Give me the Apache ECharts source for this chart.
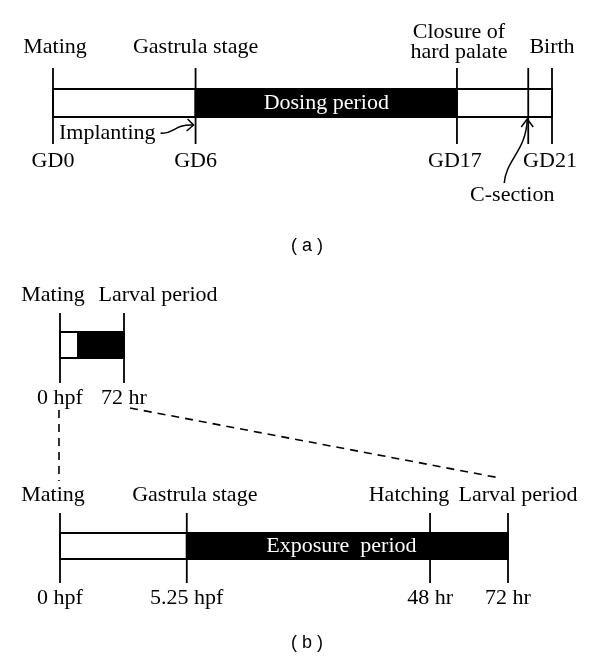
<!DOCTYPE html>
<html>
<head>
<meta charset="utf-8">
<script src="https://cdn.jsdelivr.net/npm/echarts@6/dist/echarts.min.js"></script>
<style>
  html, body { margin: 0; padding: 0; background: #fff; }
  #main { width: 600px; height: 661px; }
</style>
</head>
<body>
<div id="main"></div>
<script>
// (a) rat study, gestation days
const gdDays = [0, 6, 17, 20, 21];
const gdLabels = ['GD0', 'GD6', 'GD17', '', 'GD21'];
const gdEvents = ['Mating', 'Gastrula stage', 'Closure of\nhard palate', '', 'Birth'];
const gdSegments = [[0, 6, 0], [6, 17, 1], [17, 21, 0]];
const gdSegText = ['', 'Dosing period', ''];

// (b) zebrafish, hours post fertilization; bar is not drawn to scale,
// hpfPos is where each time sits along the bar (0-100)
const hpfHours = [0, 5.25, 48, 72];
const hpfPos = [0, 28.3, 82.6, 100];
const hpfLabels = ['0 hpf', '5.25 hpf', '48 hr', '72 hr'];
const hpfEvents = ['Mating', 'Gastrula stage', 'Hatching', 'Larval period'];
const hpfSegments = [[0, 28.3, 0], [28.3, 100, 1]];
const hpfSegText = ['', 'Exposure  period'];

// overview bar only shows start and end
const ovPos = [0, 100];
const ovLabels = ['0 hpf', '72 hr'];
const ovEvents = ['Mating', 'Larval period'];
const ovSegText = ['', ''];

const FONT = '22px "Liberation Serif"';
const LW = 1.8;

function txt(text, x, y, color) {
    return {
        type: 'text',
        style: {
            text: text, x: x, y: y, font: FONT, fill: color || '#000',
            align: 'center', verticalAlign: 'middle', lineHeight: 20
        }
    };
}

// one timeline drawn in grid g
function timeline(g, t) {
    return [
        {
            type: 'custom', xAxisIndex: g, yAxisIndex: g, silent: true, z: 1,
            data: t.segments,
            renderItem: function (params, api) {
                const a = api.coord([api.value(0), 1]);
                const b = api.coord([api.value(1), 0]);
                const dark = api.value(2) === 1;
                const label = t.segText[params.dataIndex];
                return {
                    type: 'group',
                    children: [
                        {
                            type: 'rect',
                            shape: { x: a[0], y: a[1], width: b[0] - a[0], height: b[1] - a[1] },
                            style: { fill: dark ? '#000' : '#fff', stroke: '#000', lineWidth: LW }
                        },
                        txt(label, (a[0] + b[0]) / 2 + (t.textDx || 0), (a[1] + b[1]) / 2, '#fff')
                    ]
                };
            }
        },
        {
            type: 'custom', xAxisIndex: g, yAxisIndex: g, silent: true, z: 2,
            data: t.ticks.map(function (v, i) { return [v, i]; }),
            renderItem: function (params, api) {
                const i = api.value(1);
                const top = api.coord([api.value(0), 1]);
                const bot = api.coord([api.value(0), 0]);
                const x = top[0];
                return {
                    type: 'group',
                    children: [
                        {
                            type: 'line',
                            shape: { x1: x, y1: top[1] - t.up, x2: x, y2: bot[1] + t.down },
                            style: { stroke: '#000', lineWidth: LW }
                        },
                        txt(t.events[i], x + (t.eventDx[i] || 0), top[1] - t.eventDy[i]),
                        txt(t.labels[i], x + (t.labelDx[i] || 0), bot[1] + t.labelDy)
                    ]
                };
            }
        }
    ];
}

const series = []
    .concat(timeline(0, {
        segments: gdSegments, segText: gdSegText, ticks: gdDays,
        labels: gdLabels, events: gdEvents,
        up: 21, down: 27, labelDy: 44,
        eventDx: [2, 0, 2, 0, 0], eventDy: [42, 42, 47, 42, 42],
        labelDx: [0, 0, -2, 0, -2]
    }))
    .concat(timeline(1, {
        segments: hpfSegments, segText: ovSegText, ticks: ovPos,
        labels: ovLabels, events: ovEvents,
        up: 19, down: 25, labelDy: 40,
        eventDx: [-7, 34], eventDy: [37, 37],
        labelDx: [0, 0]
    }))
    .concat(timeline(2, {
        segments: hpfSegments, segText: hpfSegText, ticks: hpfPos,
        labels: hpfLabels, events: hpfEvents, textDx: -6,
        up: 20, down: 24, labelDy: 39,
        eventDx: [-7, 8, -21, 10], eventDy: [38, 38, 38, 38],
        labelDx: [0, 0, 0, 0]
    }));

// Implanting note with arrow to GD6, C-section note with arrow to GD20
series.push({
    type: 'custom', xAxisIndex: 0, yAxisIndex: 0, silent: true, z: 3,
    data: [[0, 6, 0], [20, 20, 1]],
    renderItem: function (params, api) {
        const kind = api.value(2);
        const p = api.coord([api.value(1), 0]);
        const x = p[0], y = p[1];
        if (kind === 0) {
            const x0 = api.coord([api.value(0), 0])[0];
            return {
                type: 'group',
                children: [
                    {
                        type: 'text',
                        style: { text: 'Implanting', x: x0 + 6, y: y + 16, font: FONT, fill: '#000',
                            align: 'left', verticalAlign: 'middle' }
                    },
                    {
                        type: 'bezierCurve',
                        shape: { x1: x - 35, y1: y + 16, cpx1: x - 22, cpy1: y + 18, cpx2: x - 22, cpy2: y + 7, x2: x - 2, y2: y + 8 },
                        style: { stroke: '#000', lineWidth: 1.5, fill: null }
                    },
                    {
                        type: 'polyline',
                        shape: { points: [[x - 8, y + 2], [x - 2, y + 8], [x - 9, y + 14]] },
                        style: { stroke: '#000', lineWidth: 1.5, fill: null }
                    }
                ]
            };
        }
        return {
            type: 'group',
            children: [
                {
                    type: 'bezierCurve',
                    shape: { x1: x - 24, y1: y + 66, cpx1: x - 22, cpy1: y + 42, cpx2: x - 2, cpy2: y + 34, x2: x - 1, y2: y + 2 },
                    style: { stroke: '#000', lineWidth: 1.5, fill: null }
                },
                {
                    type: 'polyline',
                    shape: { points: [[x - 7, y + 10], [x - 1, y + 2], [x + 5, y + 10]] },
                    style: { stroke: '#000', lineWidth: 1.5, fill: null }
                },
                txt('C-section', x - 16, y + 78)
            ]
        };
    }
});

const capStyle = { fontFamily: '"Liberation Sans", Arial, sans-serif', fontSize: 18, fontWeight: 'normal', color: '#000' };

const option = {
    animation: false,
    backgroundColor: '#fff',
    title: [
        { text: '( a )', left: 286, top: 232, textStyle: capStyle },
        { text: '( b )', left: 286, top: 629, textStyle: capStyle }
    ],
    grid: [
        { left: 53, right: 48, top: 89, height: 28 },
        { left: 60, right: 476, top: 332, height: 26 },
        { left: 60, right: 92, top: 533, height: 26 }
    ],
    xAxis: [
        { gridIndex: 0, type: 'value', min: 0, max: 21, show: false },
        { gridIndex: 1, type: 'value', min: 0, max: 100, show: false },
        { gridIndex: 2, type: 'value', min: 0, max: 100, show: false }
    ],
    yAxis: [
        { gridIndex: 0, type: 'value', min: 0, max: 1, show: false },
        { gridIndex: 1, type: 'value', min: 0, max: 1, show: false },
        { gridIndex: 2, type: 'value', min: 0, max: 1, show: false }
    ],
    series: series
};

const chart = echarts.init(document.getElementById('main'));
chart.setOption(option);

// dashed zoom lines from the overview bar to the full bar
const ovStart = chart.convertToPixel({ gridIndex: 1 }, [ovPos[0], 0]);
const ovEnd = chart.convertToPixel({ gridIndex: 1 }, [ovPos[1], 0]);
const fullStart = chart.convertToPixel({ gridIndex: 2 }, [hpfPos[0], 1]);
const fullEnd = chart.convertToPixel({ gridIndex: 2 }, [hpfPos[hpfPos.length - 1], 1]);
const dash = { stroke: '#000', lineWidth: 1.6, lineDash: [8, 6] };
chart.setOption({
    graphic: [
        { type: 'line', shape: { x1: ovStart[0] - 1, y1: ovStart[1] + 52, x2: fullStart[0] - 1, y2: fullStart[1] - 52 }, style: dash },
        { type: 'line', shape: { x1: ovEnd[0] + 6, y1: ovEnd[1] + 50, x2: fullEnd[0] - 8, y2: fullEnd[1] - 55 }, style: dash }
    ]
});
</script>
</body>
</html>
